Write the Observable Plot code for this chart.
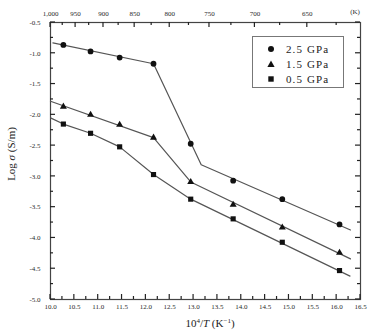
<!DOCTYPE html>
<html><head><meta charset="utf-8">
<script src="https://cdn.jsdelivr.net/npm/d3@7"></script>
<script src="https://cdn.jsdelivr.net/npm/@observablehq/plot@0.6"></script>
<style>
body{margin:0;background:#fff;}
#wrap{position:relative;width:371px;height:332px;font-family:"Liberation Serif",serif;color:#222;}
#legend{position:absolute;left:252px;top:36px;width:92px;height:52px;border:1px solid #777;background:#fff;box-sizing:border-box;}
.row{position:absolute;left:0;height:14px;display:flex;align-items:center;font-size:11px;letter-spacing:1.1px;}
.row svg{margin-left:14px;margin-right:11px;}
</style></head><body><div id="wrap"></div>
<script>
const series = ["2.5 GPa", "1.5 GPa", "0.5 GPa"];
const symbols = ["circle", "triangle", "square"];
const invT = [10.27, 10.84, 11.45, 12.16, 12.94, 13.83, 14.86, 16.06];
const logS25 = [-0.865, -0.97, -1.07, -1.17, -2.47, -3.07, -3.37, -3.78];
const logS15 = [-1.867, -2.00, -2.16, -2.37, -3.09, -3.46, -3.83, -4.24];
const logS05 = [-2.15, -2.30, -2.52, -2.97, -3.37, -3.69, -4.07, -4.53];
const fitX25 = [10.05, 12.16, 13.16, 16.29];
const fitY25 = [-0.83, -1.17, -2.81, -3.87];
const fitX15 = [10.0, 12.16, 12.94, 16.29];
const fitY15 = [-1.78, -2.37, -3.09, -4.34];
const fitX05 = [10.0, 10.27, 10.84, 11.45, 12.16, 12.94, 16.28];
const fitY05 = [-2.05, -2.15, -2.30, -2.52, -2.97, -3.37, -4.62];
const xMajor = [10.0, 10.5, 11.0, 11.5, 12.0, 12.5, 13.0, 13.5, 14.0, 14.5, 15.0, 15.5, 16.0, 16.5];
const xMinor = [10.25, 10.75, 11.25, 11.75, 12.25, 12.75, 13.25, 13.75, 14.25, 14.75, 15.25, 15.75, 16.25];
const yMajor = [-0.5, -1.0, -1.5, -2.0, -2.5, -3.0, -3.5, -4.0, -4.5, -5.0];
const yMinor = [-0.75, -1.25, -1.75, -2.25, -2.75, -3.25, -3.75, -4.25, -4.75];
const tempMajor = [1000, 950, 900, 850, 800, 750, 700, 650];
const tempMinor = [975, 925, 875, 825, 775, 725, 675, 625];

const W = 371, H = 332, mL = 50, mR = 11, mT = 22, mB = 33;
const vals = [logS25, logS15, logS05];
const fits = [[fitX25, fitY25], [fitX15, fitY15], [fitX05, fitY05]];
const pts = [];
vals.forEach((v, i) => v.forEach((y, j) => pts.push({x: invT[j], y, s: series[i], sym: symbols[i]})));
const lines = [];
fits.forEach(([fx, fy], i) => fx.forEach((x, j) => lines.push({x, y: fy[j], s: series[i]})));

const fmt = d => d.toFixed(1);
const ax = {fontSize: 7, label: null, tickSize: 0};
const inv = t => 1e4 / t;
const plot = Plot.plot({
  width: W, height: H,
  marginLeft: mL, marginRight: mR, marginTop: mT, marginBottom: mB,
  x: {domain: [10, 16.5]},
  y: {domain: [-5, -0.5]},
  style: {fontFamily: "Liberation Serif", color: "#2a2a2a", background: "white"},
  marks: [
    Plot.axisX(xMajor, {anchor: "bottom", tickPadding: 5, tickFormat: fmt, ...ax}),
    Plot.axisX(tempMajor.map(inv), {anchor: "top", tickPadding: 7, tickFormat: d => Math.round(1e4 / d), ...ax}),
    Plot.axisY(yMajor, {anchor: "left", tickPadding: 10, tickFormat: fmt, ...ax}),
    Plot.frame({stroke: "#444", strokeWidth: 1.2}),
    Plot.line(lines, {x: "x", y: "y", z: "s", stroke: "#555", strokeWidth: 1.2}),
    Plot.dot(pts.filter(d => d.sym !== "triangle"), {x: "x", y: "y", symbol: "sym", r: 2.9, fill: "#111", stroke: "none"}),
    Plot.dot(pts.filter(d => d.sym === "triangle"), {x: "x", y: "y", symbol: "triangle", r: 2.6, fill: "#111", stroke: "none"})
  ]
});
const wrap = document.getElementById("wrap");
wrap.appendChild(plot);
const svg = d3.select(plot);
const sxs = plot.scale("x"), sys = plot.scale("y");
const sx = v => sxs.apply(v), sy = v => sys.apply(v);
const edgeT = mT, edgeB = H - mB, edgeL = mL, edgeR = W - mR;
const g = svg.append("g").attr("stroke", "#222").attr("stroke-width", 1.2);
const vt = (arr, y0, len) => arr.forEach(v => g.append("line")
  .attr("x1", sx(v)).attr("x2", sx(v)).attr("y1", y0).attr("y2", y0 + len));
const ht = (arr, x0, len) => arr.forEach(v => g.append("line")
  .attr("y1", sy(v)).attr("y2", sy(v)).attr("x1", x0).attr("x2", x0 + len));
vt(xMajor, edgeB, -5); vt(xMinor, edgeB, -3);
vt(tempMajor.map(inv), edgeT, 5); vt(tempMinor.map(inv), edgeT, 3);
ht(yMajor, edgeL, 5); ht(yMinor, edgeL, 3);
ht(yMajor, edgeR, -5); ht(yMinor, edgeR, -3);

svg.append("text").attr("x", 355).attr("y", 14).attr("text-anchor", "middle")
  .attr("font-size", 7).attr("fill", "#2a2a2a").text("(K)");
const yl = svg.append("text").attr("transform", "translate(15,154) rotate(-90)")
  .attr("text-anchor", "middle").attr("font-size", 11).attr("fill", "#222");
yl.append("tspan").text("Log ");
yl.append("tspan").attr("font-style", "italic").text("σ");
yl.append("tspan").text(" (S/m)");
const xl = svg.append("text").attr("x", 210).attr("y", 327)
  .attr("text-anchor", "middle").attr("font-size", 11).attr("fill", "#222");
xl.append("tspan").text("10");
xl.append("tspan").attr("font-size", 7).attr("dy", -4).text("4");
xl.append("tspan").attr("dy", 4).text("/");
xl.append("tspan").attr("font-style", "italic").text("T");
xl.append("tspan").text(" (K");
xl.append("tspan").attr("font-size", 7).attr("dy", -4).text("−1");
xl.append("tspan").attr("dy", 4).text(")");

const leg = document.createElement("div");
leg.id = "legend";
const shapes = {
  circle: '<circle cx="4" cy="4" r="3" fill="#111"/>',
  triangle: '<path d="M4 0.6 L7.6 7 L0.4 7 Z" fill="#111"/>',
  square: '<rect x="1.3" y="1.3" width="5.4" height="5.4" fill="#111"/>'
};
series.forEach((s, i) => {
  const r = document.createElement("div");
  r.className = "row";
  r.style.top = (5 + i * 15) + "px";
  r.innerHTML = `<svg width="8" height="8">${shapes[symbols[i]]}</svg><span>${s}</span>`;
  leg.appendChild(r);
});
wrap.appendChild(leg);
</script></body></html>
